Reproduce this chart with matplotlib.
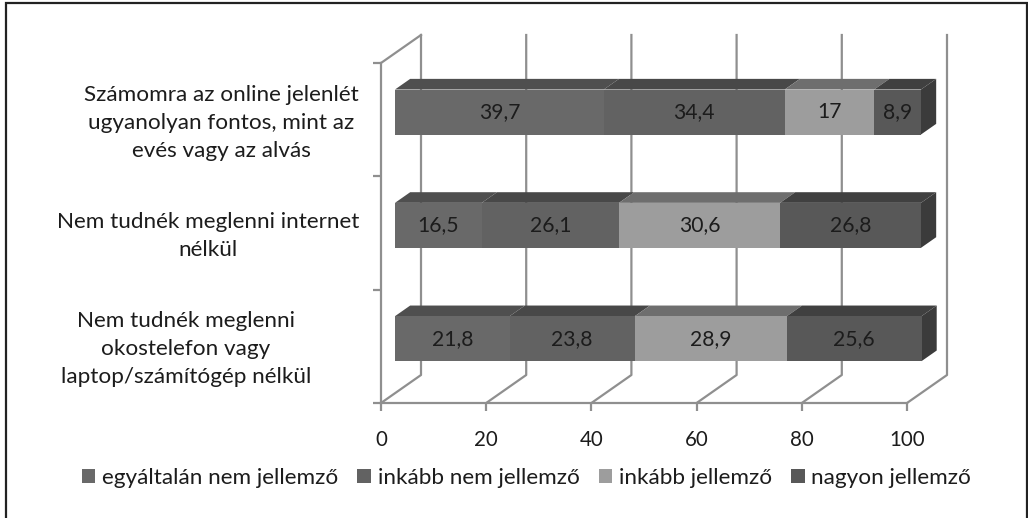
import matplotlib
matplotlib.use('Agg')
import matplotlib.pyplot as plt
from matplotlib.patches import Polygon, Patch, Rectangle

plt.rcParams['font.family'] = ['Lato', 'DejaVu Sans']

# Values, bottom category first
categories = ['Nem tudnék meglenni\nokostelefon vagy\nlaptop/számítógép nélkül',
              'Nem tudnék meglenni internet\nnélkül',
              'Számomra az online jelenlét\nugyanolyan fontos, mint az\nevés vagy az alvás']
series_names = ['egyáltalán nem jellemző', 'inkább nem jellemző', 'inkább jellemző', 'nagyon jellemző']
series_values = [[21.8, 16.5, 39.7],
                 [23.8, 26.1, 34.4],
                 [28.9, 30.6, 17],
                 [25.6, 26.8, 8.9]]
x_ticks = [0, 20, 40, 60, 80, 100]

front_colors = ['#696969', '#626262', '#9d9d9d', '#585858']
top_colors = ['#4f4f4f', '#484848', '#6e6e6e', '#404040']
side_color = '#3b3b3b'
grid_color = '#8f8f8f'
text_color = '#1c1c1c'

W, H = 1028, 518
fig = plt.figure(figsize=(W / 100, H / 100), dpi=100)
# outer frame, the bottom edge is cut off in the original
fig.add_artist(Rectangle((6 / W, -10 / H), 1021 / W, (515 + 10) / H, fill=False, ec='#222222', lw=1.6,
                         transform=fig.transFigure))

# axes = front plane of the 3D box
ax = fig.add_axes([381 / W, 1 - 403 / H, 526 / W, 340 / H])
ax.set_xlim(0, 100)
ax.set_ylim(0, 3)
ax.patch.set_alpha(0)

DX = 40 / 5.26   # depth of the box in x units
DY = 28 / 113.33  # depth of the box in category units


def proj(v, c, d=0.0):
    return v + d * DX, c + d * DY


# walls
for t in x_ticks:
    ax.plot(*zip(proj(t, 0), proj(t, 0, 1), proj(t, 3, 1)), color=grid_color, lw=1.6, clip_on=False, zorder=1)
ax.plot(*zip(proj(0, 3), proj(0, 3, 1)), color=grid_color, lw=1.6, clip_on=False, zorder=1)

for side in ['top', 'right']:
    ax.spines[side].set_visible(False)
for side in ['left', 'bottom']:
    ax.spines[side].set_color(grid_color)
    ax.spines[side].set_linewidth(1.6)
ax.set_xticks(x_ticks)
ax.set_yticks([0, 1, 2, 3])
ax.set_yticklabels([])
ax.tick_params(axis='both', color=grid_color, width=1.6, length=6)
ax.tick_params(axis='x', labelsize=14.8, labelcolor=text_color, pad=13.5)

# bars
bar_h = 0.397
d0, d1 = 0.31, 0.69
x_shift = 0.3  # bars sit a touch to the right of the depth grid
for i, cat in enumerate(categories):
    left = x_shift
    cy = i + 0.5 - 0.009
    lo = cy - bar_h / 2
    hi = cy + bar_h / 2
    for s, vals in enumerate(series_values):
        v = vals[i]
        right = left + v
        front = [proj(left, lo, d0), proj(right, lo, d0), proj(right, hi, d0), proj(left, hi, d0)]
        top = [proj(left, hi, d0), proj(right, hi, d0), proj(right, hi, d1), proj(left, hi, d1)]
        ax.add_patch(Polygon(top, fc=top_colors[s], ec='none', clip_on=False, zorder=3))
        ax.add_patch(Polygon(front, fc=front_colors[s], ec='none', clip_on=False, zorder=4))
        tx, ty = proj(left + v / 2, cy, d0)
        ax.text(tx, ty, f'{v:g}'.replace('.', ','), ha='center', va='center', fontsize=15.2,
                color=text_color, zorder=6)
        left = right
    side = [proj(left, lo, d0), proj(left, lo, d1), proj(left, hi, d1), proj(left, hi, d0)]
    ax.add_patch(Polygon(side, fc=side_color, ec='none', clip_on=False, zorder=3))

# category labels
label_x = [-37.1, -32.9, -30.4]
label_y = [0.476, 1.474, 2.47]
for cat, x, y in zip(categories, label_x, label_y):
    ax.text(x, y, cat, ha='center', va='center', fontsize=16.2, color=text_color,
            linespacing=1.49, clip_on=False)

handles = [Patch(fc=c, ec='none') for c in front_colors]
fig.legend(handles, series_names, ncol=4, loc='center', bbox_to_anchor=(526.5 / W, 1 - 478 / H),
           frameon=False, fontsize=16.2, labelcolor=text_color, handlelength=0.6, handleheight=0.6,
           handletextpad=0.3, columnspacing=0.85, borderpad=0)

fig.savefig('out.png', dpi=100)
